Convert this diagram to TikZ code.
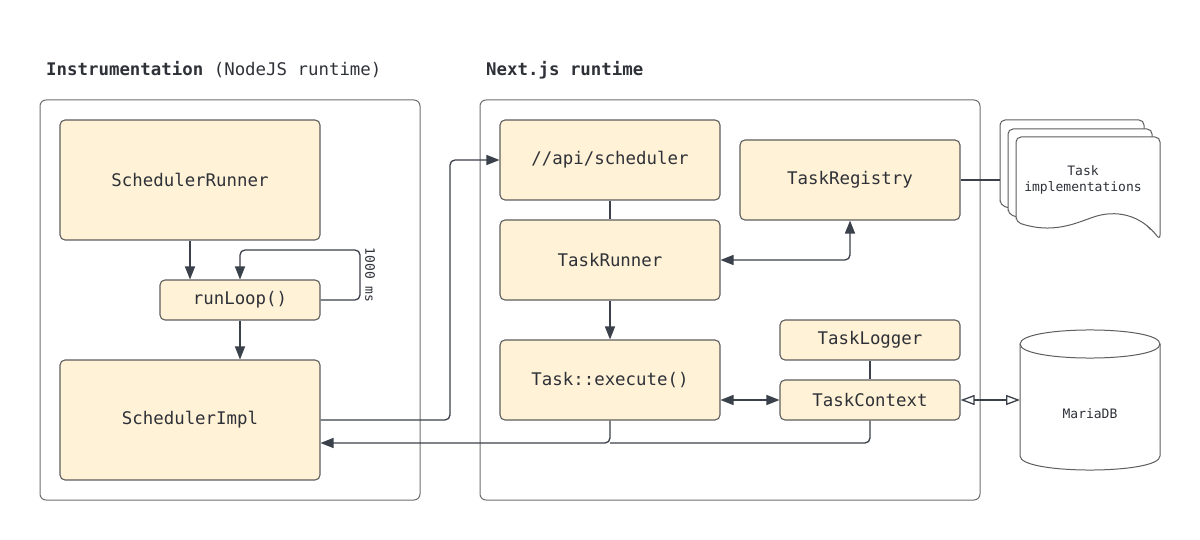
\documentclass[tikz,border=0pt]{standalone}
\usepackage{fontspec}
\setmonofont{DejaVu Sans Mono}
\usetikzlibrary{arrows.meta}
\definecolor{cream}{HTML}{FFF2D6}
\definecolor{boxline}{HTML}{5E5E5E}
\definecolor{frameline}{HTML}{6E6E6E}
\definecolor{conline}{HTML}{3A414A}
\definecolor{txt}{HTML}{2E3138}
\tikzset{
  box/.style={draw=boxline, fill=cream, line width=1.1pt, rounded corners=5pt, inner sep=0pt,
    font=\ttfamily\fontsize{17.4}{20}\selectfont, text=txt},
  frame/.style={draw=frameline, line width=1pt, rounded corners=6pt, inner sep=0pt},
  conn/.style={draw=conline, line width=1.3pt, rounded corners=5pt},
  tip/.tip={Triangle[length=13pt,width=10pt]},
  otip/.tip={Triangle[open,length=14pt,width=10pt,fill=white]},
  small/.style={font=\ttfamily\fontsize{13}{15}\selectfont, text=txt, inner sep=0pt},
  title/.style={font=\ttfamily\fontsize{17.4}{20}\selectfont, text=txt, inner sep=0pt, anchor=west},
  page/.style={draw=boxline, fill=white, line width=1pt, rounded corners=5pt}
}
\begin{document}
\begin{tikzpicture}[x=1pt,y=-1pt]
\useasboundingbox (0,0) rectangle (1200,540);

% containers
\node[frame, minimum width=380pt, minimum height=400pt] (leftc) at (230,300) {};
\node[frame, minimum width=500pt, minimum height=400pt] (rightc) at (730,300) {};

% titles
\node[title] (t1) at (46,70) {\textbf{Instrumentation} (NodeJS runtime)};
\node[title] (t2) at (486,70) {\textbf{Next.js runtime}};

% boxes
\node[box, minimum width=260pt, minimum height=120pt] (runner) at (190,180) {SchedulerRunner};
\node[box, minimum width=160pt, minimum height=40pt] (loop) at (240,300) {runLoop()};
\node[box, minimum width=260pt, minimum height=120pt] (impl) at (190,420) {SchedulerImpl};
\node[box, minimum width=220pt, minimum height=80pt] (api) at (610,160) {//api/scheduler};
\node[box, minimum width=220pt, minimum height=80pt] (trunner) at (610,260) {TaskRunner};
\node[box, minimum width=220pt, minimum height=80pt] (registry) at (850,180) {TaskRegistry};
\node[box, minimum width=220pt, minimum height=80pt] (exec) at (610,380) {Task::execute()};
\node[box, minimum width=180pt, minimum height=40pt] (logger) at (870,340) {TaskLogger};
\node[box, minimum width=180pt, minimum height=40pt] (context) at (870,400) {TaskContext};

% document stack
\foreach \px/\py in {1000/120, 1008/129, 1016/137}{
  \filldraw[page] (\px,\py+85) -- (\px,\py) -- (\px+144,\py) -- (\px+144,\py+103)
    .. controls (\px+125,\py+78) and (\px+100,\py+72) .. (\px+72,\py+82)
    .. controls (\px+50,\py+90) and (\px+30,\py+95) .. (\px,\py+85) -- cycle;
}
\node[small, align=center] (docs) at (1083,180) {Task\\[1pt]implementations};
\coordinate (docL) at (1000,180);

% database
\filldraw[draw=boxline, fill=white, line width=1pt] (1020,344) -- (1020,456)
  .. controls (1020,474.7) and (1160,474.7) .. (1160,456) -- (1160,344)
  .. controls (1160,325.3) and (1020,325.3) .. (1020,344) -- cycle;
\draw[draw=boxline, line width=1pt] (1020,344) .. controls (1020,362.7) and (1160,362.7) .. (1160,344);
\node[small] (db) at (1090,414) {MariaDB};
\coordinate (dbL) at (1020,400);

% connectors
\draw[conn, -{tip}] (runner.south) -- (loop.north -| runner.south);
\draw[conn, -{tip}] (loop.east) -- (360,300) -- (360,250) -- (240,250) -- (loop.north);
\node[small, rotate=-90] (ms) at (370,275) {1000 ms};
\draw[conn, -{tip}] (loop.south) -- (impl.north -| loop.south);
\draw[conn, -{tip}] (impl.east) -- (450,420) -- (450,160) -- (api.west);
\coordinate (ret) at (610,443);
\draw[conn, -{tip}] (exec.south) -- (ret) -- (impl.east |- ret);
\draw[conn] (context.south) -- (870,443) -- (ret);
\draw[conn] (api.south) -- (trunner.north);
\draw[conn, -{tip}] (trunner.south) -- (exec.north);
\draw[conn, {tip}-{tip}] (trunner.east) -| (registry.south);
\draw[conn, {tip}-{tip}] (context.west -| exec.east) -- (context.west);
\draw[conn] (logger.south) -- (context.north);
\draw[conn] (registry.east) -- (docL);
\draw[conn, {otip}-{otip}] (context.east) -- (dbL);
\end{tikzpicture}
\end{document}
